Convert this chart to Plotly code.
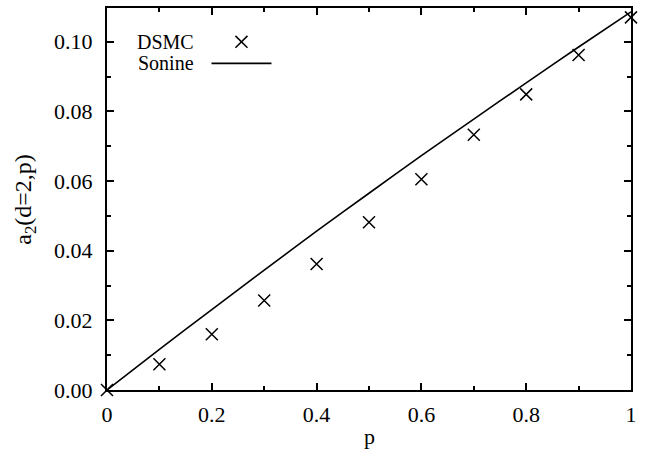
import plotly.graph_objects as go

# Data
p_dsmc = [0.0, 0.1, 0.2, 0.3, 0.4, 0.5, 0.6, 0.7, 0.8, 0.9, 1.0]
a2_dsmc = [0.0, 0.0074, 0.0160, 0.0257, 0.0362, 0.0482, 0.0605, 0.0733, 0.0849, 0.0962, 0.1070]

p_sonine = [0.0, 0.1, 0.2, 0.3, 0.4, 0.5, 0.6, 0.7, 0.8, 0.9, 1.0]
a2_sonine = [0.0, 0.0117, 0.0231, 0.0344, 0.0456, 0.0565, 0.0673, 0.0778, 0.0882, 0.0985, 0.1086]

x_ticks = [0, 0.2, 0.4, 0.6, 0.8, 1.0]
x_tick_labels = ["0", "0.2", "0.4", "0.6", "0.8", "1"]
y_ticks = [0.0, 0.02, 0.04, 0.06, 0.08, 0.10]
y_tick_labels = ["0.00", "0.02", "0.04", "0.06", "0.08", "0.10"]

FONT = "Liberation Serif"

fig = go.Figure()
fig.add_trace(go.Scatter(
    x=p_sonine, y=a2_sonine, mode="lines", name="Sonine",
    line=dict(color="black", width=1.6, shape="spline", smoothing=0.6), showlegend=False,
))
fig.add_trace(go.Scatter(
    x=p_dsmc, y=a2_dsmc, mode="markers", name="DSMC",
    marker=dict(symbol="x-thin", size=12, line=dict(color="black", width=1.5), color="black"),
    cliponaxis=False, showlegend=False,
))

axis_common = dict(
    showline=True, linecolor="black", linewidth=2, mirror="allticks",
    ticks="inside", ticklen=7, tickwidth=1.5, tickcolor="black",
    showgrid=False, zeroline=False,
    tickfont=dict(family=FONT, size=22, color="black"),
)

fig.update_xaxes(
    range=[0, 1], tickvals=x_ticks, ticktext=x_tick_labels,
    minor=dict(ticks="inside", ticklen=4, tickwidth=1.5, tickcolor="black", dtick=0.1, tick0=0),
    ticklabelstandoff=4,
    **axis_common,
)
fig.update_yaxes(
    range=[0, 0.1097], tickvals=y_ticks, ticktext=y_tick_labels,
    minor=dict(ticks="inside", ticklen=4, tickwidth=1.5, tickcolor="black", dtick=0.01, tick0=0),
    ticklabelstandoff=8,
    **axis_common,
)

# Legend drawn gnuplot-style (text then sample)
lx_text = 0.1675
ly_dsmc = 0.9115
ly_son = 0.855
mx, my, dx, dy = 0.2566, 0.9115, 0.0115, 0.0156
shapes = [
    dict(type="line", xref="paper", yref="paper", x0=0.1994, x1=0.3139, y0=ly_son, y1=ly_son,
         line=dict(color="black", width=1.6)),
    dict(type="line", xref="paper", yref="paper", x0=mx - dx, x1=mx + dx, y0=my - dy, y1=my + dy,
         line=dict(color="black", width=1.5)),
    dict(type="line", xref="paper", yref="paper", x0=mx - dx, x1=mx + dx, y0=my + dy, y1=my - dy,
         line=dict(color="black", width=1.5)),
]
annotations = [
    dict(text="DSMC", xref="paper", yref="paper", x=lx_text, y=ly_dsmc, xanchor="right", yanchor="middle",
         showarrow=False, borderpad=0, font=dict(family=FONT, size=20, color="black")),
    dict(text="Sonine", xref="paper", yref="paper", x=lx_text, y=ly_son, xanchor="right", yanchor="middle",
         showarrow=False, borderpad=0, font=dict(family=FONT, size=20, color="black")),
    dict(text="a<sub>2</sub>(d=2,p)", xref="paper", yref="paper", x=-0.157, y=0.5, textangle=-90,
         xanchor="center", yanchor="middle", showarrow=False, font=dict(family=FONT, size=24, color="#000000")),
    dict(text="p", xref="paper", yref="paper", x=0.5, y=-0.122, xanchor="center", yanchor="middle",
         showarrow=False, font=dict(family=FONT, size=22, color="black")),
]

fig.update_layout(
    width=649, height=451,
    margin=dict(l=107, r=18, t=6, b=61),
    paper_bgcolor="white", plot_bgcolor="white",
    shapes=shapes, annotations=annotations,
    showlegend=False,
)

fig.write_html(
    "out.html",
    config={"displayModeBar": False},
    post_script="document.body.style.margin='0';document.body.style.padding='0';document.body.style.overflow='hidden';",
)
